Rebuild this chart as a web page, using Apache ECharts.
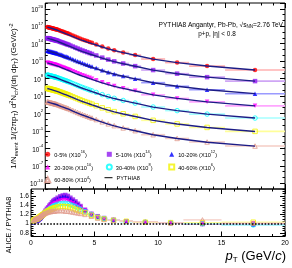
<!DOCTYPE html>
<html><head><meta charset="utf-8">
<script src="https://cdn.jsdelivr.net/npm/echarts@6/dist/echarts.min.js"></script>
<style>html,body{margin:0;padding:0;background:#fff}#c{width:292px;height:268px}</style>
</head><body><div id="c"></div>
<script>
// ---- data ----
const pT = [0.175,0.225,0.275,0.325,0.375,0.425,0.475,0.525,0.575,0.625,0.675,0.725,0.775,0.825,0.875,0.925,0.975,
  1.05,1.15,1.25,1.35,1.45,1.55,1.65,1.75,1.85,1.95,2.1,2.3,2.5,2.7,2.9,3.1,3.3,3.5,3.7,3.9,4.25,4.75,5.25,5.75,6.5,7.5,9,11,13.5,17.5];
const ptLow = [0.15,0.2,0.25,0.3,0.35,0.4,0.45,0.5,0.55,0.6,0.65,0.7,0.75,0.8,0.85,0.9,0.95,
  1.0,1.1,1.2,1.3,1.4,1.5,1.6,1.7,1.8,1.9,2.0,2.2,2.4,2.6,2.8,3.0,3.2,3.4,3.6,3.8,4.0,4.5,5.0,5.5,6,7,8,10,12,15];
const ptHigh = [0.2,0.25,0.3,0.35,0.4,0.45,0.5,0.55,0.6,0.65,0.7,0.75,0.8,0.85,0.9,0.95,1.0,
  1.1,1.2,1.3,1.4,1.5,1.6,1.7,1.8,1.9,2.0,2.2,2.4,2.6,2.8,3.0,3.2,3.4,3.6,3.8,4.0,4.5,5.0,5.5,6,7,8,10,12,15,20];

const classNames = ['0-5%','5-10%','10-20%','20-30%','30-40%','40-60%','60-80%'];
const scaleExp = [16,14,12,10,8,6,4];

// ALICE spectra (unscaled)
const yield_0_5 = [7.41,6.96,6.53,6.13,5.75,5.40,5.07,4.76,4.47,4.19,3.94,3.69,3.47,3.26,3.05,2.87,2.69,2.39,2.01,1.69,1.42,1.20,1.01,0.848,0.714,0.600,0.505,0.381,0.258,0.174,0.118,0.0796,0.0551,0.0390,0.0276,0.0195,0.0138,0.00756,0.00319,0.00147,7.35e-4,3.10e-4,1.10e-4,2.32e-5,5.57e-6,1.40e-6,2.92e-7];
const yield_5_10 = [9.26,8.70,8.16,7.66,7.19,6.75,6.34,5.95,5.59,5.24,4.93,4.61,4.34,4.08,3.81,3.59,3.36,2.99,2.51,2.11,1.78,1.50,1.26,1.06,0.893,0.750,0.631,0.476,0.323,0.218,0.148,0.0995,0.0689,0.0488,0.0345,0.0244,0.0173,0.00945,0.00399,0.00184,9.19e-4,3.88e-4,1.38e-4,2.90e-5,6.96e-6,1.75e-6,3.65e-7];
const yield_10_20 = [6.30,5.92,5.55,5.21,4.89,4.59,4.31,4.05,3.80,3.56,3.35,3.14,2.95,2.77,2.59,2.44,2.29,2.03,1.71,1.44,1.21,1.02,0.859,0.721,0.607,0.510,0.429,0.324,0.219,0.148,0.100,0.0677,0.0468,0.0332,0.0235,0.0166,0.0117,0.00643,0.00271,0.00125,6.25e-4,2.64e-4,9.35e-5,1.97e-5,4.73e-6,1.19e-6,2.48e-7];
const yield_20_30 = [5.19,4.87,4.57,4.29,4.03,3.78,3.55,3.33,3.13,2.93,2.76,2.58,2.43,2.28,2.14,2.01,1.88,1.67,1.41,1.18,0.994,0.840,0.707,0.594,0.500,0.420,0.354,0.267,0.181,0.122,0.0826,0.0557,0.0386,0.0273,0.0193,0.0137,0.00966,0.00529,0.00223,0.00103,5.15e-4,2.17e-4,7.70e-5,1.62e-5,3.90e-6,9.80e-7,2.04e-7];
const yield_30_40 = [4.08,3.83,3.59,3.37,3.16,2.97,2.79,2.62,2.46,2.30,2.17,2.03,1.91,1.79,1.68,1.58,1.48,1.31,1.11,0.930,0.781,0.660,0.556,0.466,0.393,0.330,0.278,0.210,0.142,0.0957,0.0649,0.0438,0.0303,0.0215,0.0152,0.0107,0.00759,0.00416,0.00175,8.09e-4,4.04e-4,1.71e-4,6.05e-5,1.28e-5,3.06e-6,7.70e-7,1.61e-7];
const yield_40_60 = [2.07,1.95,1.83,1.72,1.61,1.51,1.42,1.33,1.25,1.17,1.10,1.03,0.972,0.913,0.854,0.804,0.753,0.669,0.563,0.473,0.398,0.336,0.283,0.237,0.200,0.168,0.141,0.107,0.0722,0.0487,0.0330,0.0223,0.0154,0.0109,0.00773,0.00546,0.00386,0.00212,8.93e-4,4.12e-4,2.06e-4,8.68e-5,3.08e-5,6.50e-6,1.56e-6,3.92e-7,8.18e-8];
const yield_60_80 = [1.04,0.974,0.914,0.858,0.805,0.756,0.710,0.666,0.626,0.587,0.552,0.517,0.486,0.456,0.427,0.402,0.377,0.323,0.271,0.228,0.192,0.162,0.136,0.114,0.0964,0.0810,0.0682,0.0488,0.0325,0.0218,0.0146,0.00979,0.00672,0.00472,0.00331,0.00232,0.00163,8.77e-4,3.60e-4,1.62e-4,7.86e-5,3.19e-5,1.09e-5,2.20e-6,5.01e-7,1.22e-7,2.45e-8];

// ALICE / PYTHIA8 ratios
const ratio_0_5 = [1.02,1.04,1.05,1.06,1.06,1.07,1.07,1.07,1.08,1.09,1.10,1.11,1.13,1.14,1.16,1.18,1.19,1.22,1.26,1.30,1.33,1.37,1.40,1.43,1.46,1.48,1.50,1.53,1.56,1.58,1.58,1.56,1.53,1.49,1.45,1.40,1.36,1.28,1.20,1.15,1.11,1.08,1.05,1.03,1.01,0.99,1.00];
const ratio_5_10 = [1.02,1.04,1.05,1.06,1.06,1.07,1.07,1.07,1.08,1.10,1.11,1.12,1.14,1.15,1.17,1.19,1.20,1.23,1.28,1.32,1.35,1.39,1.42,1.46,1.49,1.51,1.53,1.56,1.59,1.61,1.62,1.60,1.56,1.52,1.48,1.43,1.38,1.30,1.21,1.16,1.12,1.08,1.05,1.03,1.01,0.99,0.99];
const ratio_10_20 = [1.03,1.05,1.06,1.07,1.07,1.08,1.08,1.08,1.09,1.10,1.11,1.12,1.14,1.15,1.17,1.18,1.20,1.23,1.27,1.30,1.34,1.37,1.40,1.43,1.46,1.48,1.50,1.53,1.56,1.58,1.58,1.56,1.53,1.49,1.45,1.41,1.36,1.29,1.21,1.15,1.11,1.08,1.05,1.03,1.02,1.00,0.98];
const ratio_20_30 = [1.04,1.06,1.07,1.08,1.08,1.09,1.09,1.09,1.10,1.11,1.12,1.13,1.15,1.16,1.17,1.19,1.20,1.23,1.26,1.29,1.32,1.35,1.37,1.40,1.42,1.44,1.45,1.48,1.50,1.51,1.51,1.50,1.47,1.44,1.41,1.37,1.34,1.28,1.21,1.15,1.11,1.08,1.05,1.02,1.01,1.01,1.00];
const ratio_30_40 = [1.04,1.06,1.07,1.08,1.09,1.09,1.10,1.10,1.11,1.12,1.13,1.14,1.15,1.16,1.18,1.19,1.20,1.22,1.25,1.27,1.30,1.32,1.34,1.36,1.38,1.39,1.40,1.42,1.43,1.44,1.44,1.43,1.41,1.39,1.37,1.34,1.31,1.26,1.20,1.14,1.11,1.07,1.04,1.03,1.02,1.00,0.97];
const ratio_40_60 = [1.05,1.07,1.08,1.09,1.09,1.10,1.10,1.11,1.12,1.13,1.14,1.15,1.16,1.17,1.18,1.19,1.20,1.22,1.24,1.26,1.28,1.29,1.31,1.32,1.33,1.34,1.35,1.36,1.37,1.37,1.37,1.36,1.35,1.33,1.31,1.29,1.27,1.23,1.18,1.13,1.10,1.07,1.05,1.03,1.02,1.02,1.03];
const ratio_60_80 = [1.06,1.08,1.09,1.10,1.10,1.11,1.11,1.12,1.13,1.14,1.15,1.16,1.17,1.18,1.19,1.20,1.21,1.22,1.23,1.24,1.25,1.26,1.26,1.27,1.27,1.27,1.28,1.28,1.28,1.28,1.27,1.27,1.26,1.25,1.24,1.23,1.22,1.20,1.16,1.12,1.09,1.07,1.05,1.04,1.02,1.08,1.01];

// axis ticks
const yLabelExp = [-10,-7,-4,-1,2,5,8,11,14,17,20,21];
const ratioTicks = [0.8,1,1.2,1.4,1.6];

// ---- styling ----
const F = "'Liberation Sans', Arial, Helvetica, sans-serif";
const NAVY = '#1c1c86';
const classColors = ['#ff0000','#9019f0','#0000ff','#ff00ff','#00ffff','#f2f200','#e09a8c'];
const barColors = ['#ffb0b0','#cfa6f5','#9a9aff','#ffa6ff','#a6ffff','#ffff9a','#f4cdc4'];
const symbols = ['circle','rect','triangle','triangle','circle','rect','triangle'];
const rotations = [0,0,0,180,0,0,0];
const filled = [true,true,true,true,false,false,false];
const yieldsAll = [yield_0_5,yield_5_10,yield_10_20,yield_20_30,yield_30_40,yield_40_60,yield_60_80];
const ratiosAll = [ratio_0_5,ratio_5_10,ratio_10_20,ratio_20_30,ratio_30_40,ratio_40_60,ratio_60_80];

const decadeTicks = []; for (let e = -11; e <= 21; e++) decadeTicks.push(e);
const ratioMinor = []; for (let k = 15; k <= 34; k++) ratioMinor.push(k / 20);

function hbar(color, w) {
  return function (params, api) {
    const a = api.coord([api.value(0), api.value(2)]);
    const b = api.coord([api.value(1), api.value(2)]);
    return {type: 'line', shape: {x1: a[0], y1: a[1], x2: b[0], y2: b[1]}, style: {stroke: color, lineWidth: w}};
  };
}

const series = [];
classNames.forEach((name, i) => {
  const f = Math.pow(10, scaleExp[i]);
  const col = classColors[i];
  const style = filled[i] ? {color: col} : {color: 'rgba(255,255,255,0)', borderColor: col, borderWidth: 1};
  const Y = yieldsAll[i], R = ratiosAll[i];
  series.push({type: 'custom', name: name + ' bins', xAxisIndex: 0, yAxisIndex: 0, silent: true, clip: true, z: 1,
    encode: {x: [0, 1], y: 2}, renderItem: hbar(barColors[i], 1.6),
    data: pT.map((p, k) => [ptLow[k], ptHigh[k], Y[k] * f])});
  series.push({type: 'scatter', name: name, xAxisIndex: 0, yAxisIndex: 0, symbol: symbols[i], symbolRotate: rotations[i],
    symbolSize: 4.5, itemStyle: style, z: 3, data: pT.map((p, k) => [p, Y[k] * f])});
  series.push({type: 'line', name: 'PYTHIA8 ' + name, xAxisIndex: 0, yAxisIndex: 0, symbol: 'none', showSymbol: false,
    lineStyle: {color: NAVY, width: 1.4}, z: 4, data: pT.map((p, k) => [p, Y[k] / R[k] * f])});
  series.push({type: 'custom', name: name + ' ratio bins', xAxisIndex: 2, yAxisIndex: 5, silent: true, clip: true, z: 1,
    encode: {x: [0, 1], y: 2}, renderItem: hbar(barColors[i], 1.4),
    data: pT.map((p, k) => [ptLow[k], ptHigh[k], R[k]])});
  series.push({type: 'scatter', name: name, xAxisIndex: 2, yAxisIndex: 5, symbol: symbols[i], symbolRotate: rotations[i],
    symbolSize: 4.5, itemStyle: style, z: 3, clip: true, data: pT.map((p, k) => [p, R[k]])});
});
series.push({type: 'line', name: 'PYTHIA8', xAxisIndex: 0, yAxisIndex: 0, symbol: 'none', data: [],
  lineStyle: {color: '#000', width: 1.2}, itemStyle: {color: '#000'}});
series.push({type: 'line', name: 'unity', xAxisIndex: 2, yAxisIndex: 5, symbol: 'none', data: [], z: 6,
  markLine: {silent: true, symbol: 'none', label: {show: false}, animation: false,
    lineStyle: {color: '#000', type: [1.6, 1.6], width: 1.5}, data: [{yAxis: 1}]}});

function xAx(grid, pos, labels) {
  return {type: 'value', gridIndex: grid, position: pos, min: 0, max: 20, interval: 5,
    axisLine: {show: false, onZero: false}, splitLine: {show: false},
    axisTick: {show: true, inside: true, length: 5, lineStyle: {color: '#000', width: 1}},
    minorTick: {show: true, splitNumber: 5, length: 2.5, lineStyle: {color: '#000', width: 1}},
    axisLabel: {show: labels, fontSize: 6.8, fontFamily: F, color: '#000', margin: 3}};
}
const expRich = {
  b: {fontSize: 6.3, fontFamily: F, color: '#000', lineHeight: 9, verticalAlign: 'bottom'},
  s: {fontSize: 4.4, fontFamily: F, color: '#000', lineHeight: 9, verticalAlign: 'top'}
};
function yTickAx(grid, pos, mn, mx, vals, len) {
  return {type: 'value', gridIndex: grid, position: pos, min: mn, max: mx,
    axisLine: {show: false, onZero: false}, splitLine: {show: false}, axisLabel: {show: false},
    axisTick: {show: true, inside: true, length: len, customValues: vals, lineStyle: {color: '#000', width: 1}}};
}

const yTitle = '{t|1/N}{sb|event}{t| 1/(2πp}{sb|T}{t|) d}{sp|2}{t|N}{sb|ch}{t|/(dη dp}{sb|T}{t|) (GeV/}{it|c}{t|)}{sp|-2}';

const legendText = {fontFamily: F, fontSize: 5.6, color: '#000', padding: [0, 0, 0, -1], rich: {
  a: {fontFamily: F, fontSize: 5.6, color: '#000', lineHeight: 8, verticalAlign: 'bottom'},
  s: {fontFamily: F, fontSize: 4, color: '#000', lineHeight: 8, verticalAlign: 'top'}}};
const legendFmt = name => {
  const i = classNames.indexOf(name);
  if (i < 0) return '{a|' + name + '}';
  return '{a|' + name + ' (X10}{s|' + scaleExp[i] + '}{a|)}';
};
function legendCol(left, top, names) {
  return {orient: 'vertical', left: left, top: top, padding: 0, itemGap: 4.7,
    itemWidth: 5, itemHeight: 5, selectedMode: false, data: names, formatter: legendFmt, textStyle: legendText};
}

const option = {
  animation: false,
  backgroundColor: '#fff',
  grid: [
    {left: 31, top: 3, width: 254, height: 186, show: true, borderColor: '#000', borderWidth: 1, backgroundColor: 'rgba(0,0,0,0)'},
    {left: 31, top: 189, width: 254, height: 47.5, show: true, borderColor: '#000', borderWidth: 1, backgroundColor: 'rgba(0,0,0,0)'}
  ],
  xAxis: [xAx(0, 'bottom', false), xAx(0, 'top', false), xAx(1, 'bottom', true), xAx(1, 'top', false)],
  yAxis: [
    {type: 'log', gridIndex: 0, logBase: 10, min: 1e-11, max: 1e21, show: false},
    {type: 'value', gridIndex: 0, position: 'left', min: -11, max: 21,
      axisLine: {show: false, onZero: false}, splitLine: {show: false},
      axisTick: {show: true, inside: true, length: 5, customValues: yLabelExp, lineStyle: {color: '#000'}},
      axisLabel: {customValues: yLabelExp, margin: 2, formatter: v => '{b|10}{s|' + v + '}', rich: expRich},
      name: yTitle, nameLocation: 'middle', nameRotate: 90, nameGap: 21,
      nameTextStyle: {rich: {
        t: {fontSize: 8, fontFamily: F, color: '#000', lineHeight: 11, verticalAlign: 'middle'},
        it: {fontSize: 8, fontFamily: F, fontStyle: 'italic', color: '#000', lineHeight: 11, verticalAlign: 'middle'},
        sb: {fontSize: 5.6, fontFamily: F, color: '#000', lineHeight: 11, verticalAlign: 'bottom'},
        sp: {fontSize: 5.6, fontFamily: F, color: '#000', lineHeight: 11, verticalAlign: 'top'}}}},
    yTickAx(0, 'left', -11, 21, decadeTicks, 2.5),
    yTickAx(0, 'right', -11, 21, yLabelExp, 5),
    yTickAx(0, 'right', -11, 21, decadeTicks, 2.5),
    {type: 'value', gridIndex: 1, position: 'left', min: 0.72, max: 1.75,
      axisLine: {show: false, onZero: false}, splitLine: {show: false},
      axisTick: {show: true, inside: true, length: 5, customValues: ratioTicks, lineStyle: {color: '#000'}},
      axisLabel: {customValues: ratioTicks, margin: 2, fontSize: 6.6, fontFamily: F, color: '#000'}},
    yTickAx(1, 'left', 0.72, 1.75, ratioMinor, 2.5),
    yTickAx(1, 'right', 0.72, 1.75, ratioTicks, 5),
    yTickAx(1, 'right', 0.72, 1.75, ratioMinor, 2.5)
  ],
  legend: [
    legendCol(44.2, 150.3, ['0-5%', '20-30%', '60-80%']),
    legendCol(105.8, 150.3, ['5-10%', '30-40%']),
    legendCol(168.2, 150.3, ['10-20%', '40-60%']),
    {orient: 'vertical', left: 104.5, top: 175.7, padding: 0, itemWidth: 8, itemHeight: 5, selectedMode: false,
      data: [{name: 'PYTHIA8', icon: 'path://M0,0L24,0L24,3L0,3Z', itemStyle: {color: '#000'}}],
      formatter: legendFmt, textStyle: legendText}
  ],
  graphic: [
    {type: 'text', x: 283, y: 25, z: 100, style: {
      text: '{a|PYTHIA8 Angantyr, Pb-Pb, √s}{b|NN}{a|=2.76 TeV}', align: 'right', verticalAlign: 'middle',
      rich: {a: {fontFamily: F, fontSize: 6.6, fill: '#000', lineHeight: 9, verticalAlign: 'middle'},
             b: {fontFamily: F, fontSize: 4.6, fill: '#000', lineHeight: 9, verticalAlign: 'bottom'}}}},
    {type: 'text', x: 217, y: 34, z: 100, style: {
      text: 'p+p, |η| < 0.8', align: 'center', verticalAlign: 'middle', fontFamily: F, fontSize: 6.4, fill: '#000'}},
    {type: 'text', x: 9.5, y: 225, rotation: Math.PI / 2, z: 100, style: {
      text: 'ALICE / PYTHIA8', align: 'center', verticalAlign: 'middle', fontFamily: F, fontSize: 7.2, fill: '#000'}},
    {type: 'text', x: 286, y: 256, z: 100, style: {
      text: '{p|p}{s|T}{n| (GeV/}{p|c}{n|)}', align: 'right', verticalAlign: 'middle',
      rich: {p: {fontFamily: F, fontSize: 13, fontStyle: 'italic', fill: '#000', lineHeight: 16, verticalAlign: 'middle'},
             s: {fontFamily: F, fontSize: 8, fill: '#000', lineHeight: 16, verticalAlign: 'bottom'},
             n: {fontFamily: F, fontSize: 13, fill: '#000', lineHeight: 16, verticalAlign: 'middle'}}}}
  ],
  series: series
};
const chart = echarts.init(document.getElementById('c'), null, {renderer: 'canvas'});
chart.setOption(option);
</script></body></html>
